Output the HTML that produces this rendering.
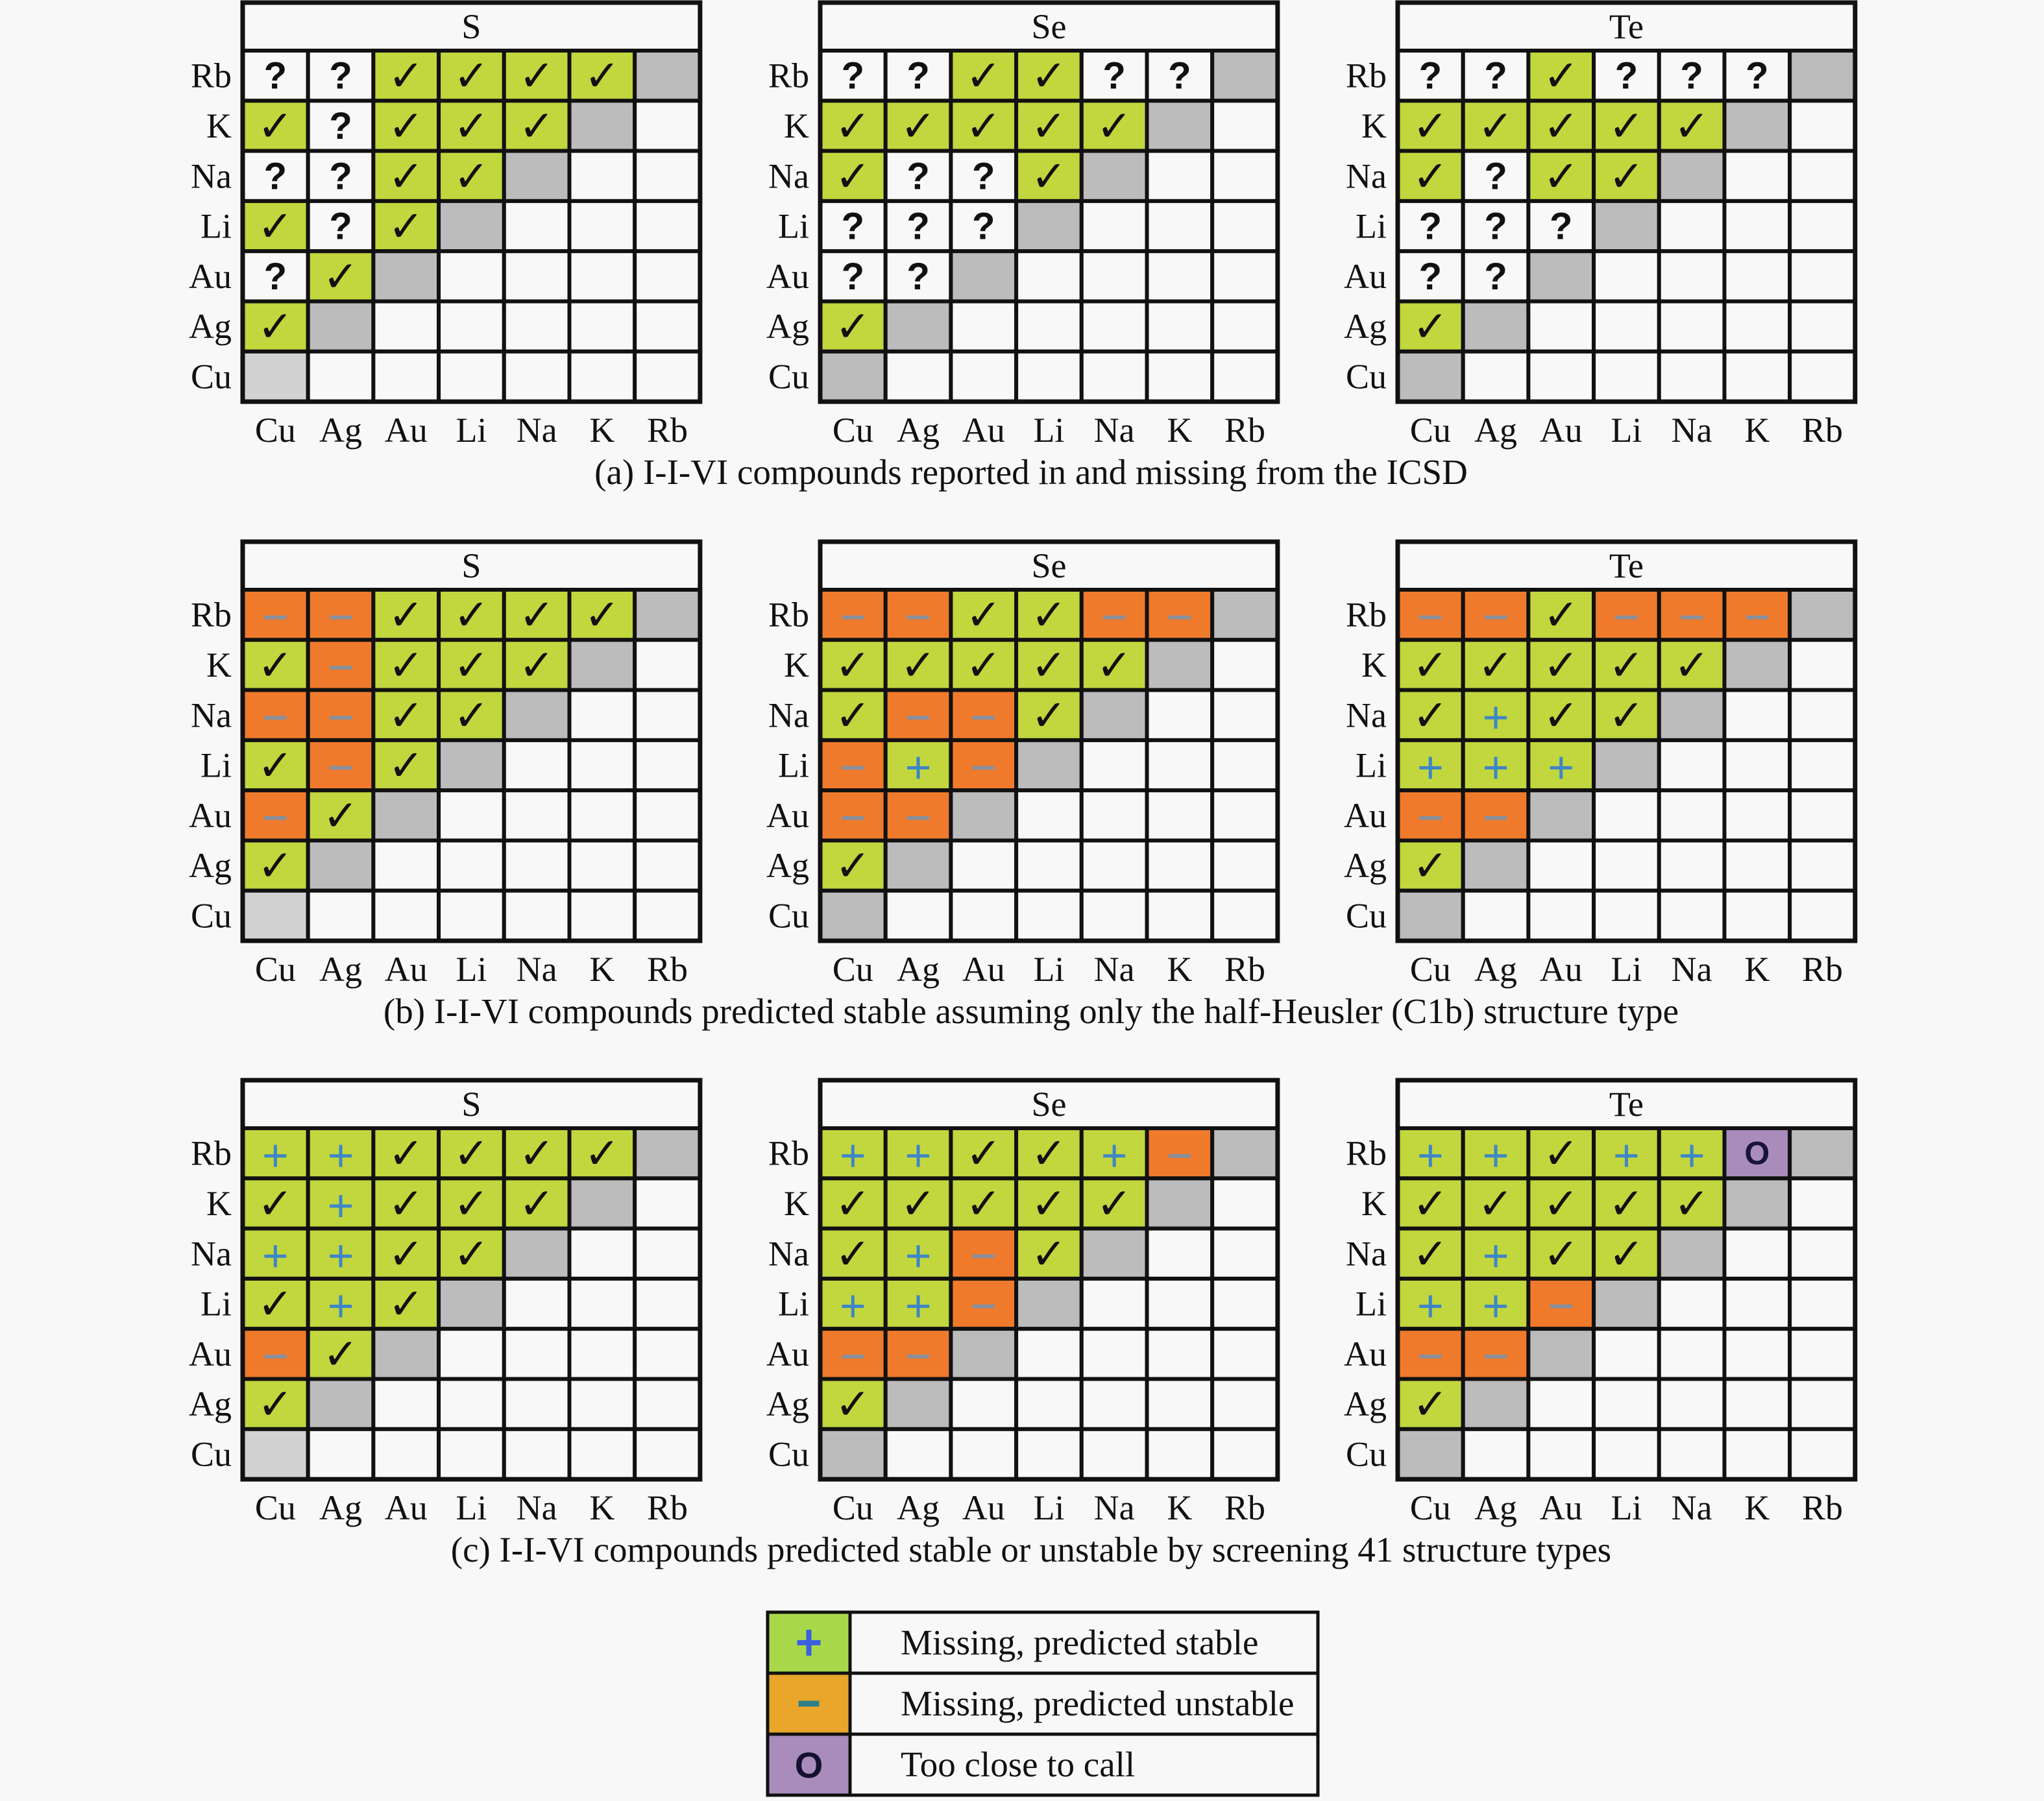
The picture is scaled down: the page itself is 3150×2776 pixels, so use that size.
<!DOCTYPE html>
<html><head><meta charset="utf-8">
<style>
html,body{margin:0;padding:0;background:#f8f8f8;}
svg{display:block;}
text{font-family:"Liberation Serif",serif;fill:#111;}
</style></head>
<body>
<svg id="chart" width="3150" height="2776" viewBox="0 0 3150 2776" xmlns="http://www.w3.org/2000/svg">
<rect x="0" y="0" width="3150" height="2776" fill="#f8f8f8"/>
</svg>
<script>
const elements = ["Cu","Ag","Au","Li","Na","K","Rb"];
const rowLabels = ["Rb","K","Na","Li","Au","Ag","Cu"];
const anions = ["S","Se","Te"];
const captions = [
 "(a) I-I-VI compounds reported in and missing from the ICSD",
 "(b) I-I-VI compounds predicted stable assuming only the half-Heusler (C1b) structure type",
 "(c) I-I-VI compounds predicted stable or unstable by screening 41 structure types"
];
// y = reported (check), q = unknown, p = predicted stable, m = predicted unstable, o = too close
const gridA_S  = ["qqyyyy","yqyyy","qqyy","yqy","qy","y"];
const gridA_Se = ["qqyyqq","yyyyy","yqqy","qqq","qq","y"];
const gridA_Te = ["qqyqqq","yyyyy","yqyy","qqq","qq","y"];
const gridB_S  = ["mmyyyy","ymyyy","mmyy","ymy","my","y"];
const gridB_Se = ["mmyymm","yyyyy","ymmy","mpm","mm","y"];
const gridB_Te = ["mmymmm","yyyyy","ypyy","ppp","mm","y"];
const gridC_S  = ["ppyyyy","ypyyy","ppyy","ypy","my","y"];
const gridC_Se = ["ppyypm","yyyyy","ypmy","ppm","mm","y"];
const gridC_Te = ["ppyppo","yyyyy","ypyy","ppm","mm","y"];
const panels = [[gridA_S,gridA_Se,gridA_Te],[gridB_S,gridB_Se,gridB_Te],[gridC_S,gridC_Se,gridC_Te]];
const legendLabels = ["Missing, predicted stable","Missing, predicted unstable","Too close to call"];
const legendKinds = ["p","m","o"];

const svg = document.getElementById('chart');
const NS = "http://www.w3.org/2000/svg";
const COLORS = {y:"#c2d63e",p:"#c2d63e",q:"#f8f8f8",m:"#ef7a2c",o:"#a98cbb"};
const panelX = [374,1264,2154];
const sectionY = [4,835,1665];
const cw = 100.7, rh = 77.3, hh = 74;
function mk(tag, attrs, parent){const e=document.createElementNS(NS,tag);for(const k in attrs)e.setAttribute(k,attrs[k]);(parent||svg).appendChild(e);return e;}
function symbol(kind,cx,cy,g){
  if(kind==="y"){const t=mk('text',{x:cx,y:cy+23,'text-anchor':'middle','font-size':66,'font-weight':'bold'},g);t.style.fontFamily='"DejaVu Sans",sans-serif';t.textContent="✓";}
  else if(kind==="q"){const t=mk('text',{x:cx,y:cy+20,'text-anchor':'middle','font-size':58,'font-weight':'bold'},g);t.style.fontFamily='"Liberation Sans",sans-serif';t.textContent="?";}
  else if(kind==="p"){mk('path',{d:`M${cx-17} ${cy+4}H${cx+17}M${cx} ${cy-13}V${cy+21}`,stroke:"#3d86c8",'stroke-width':5},g);}
  else if(kind==="m"){mk('path',{d:`M${cx-17} ${cy+4}H${cx+17}`,stroke:"#8a8f9a",'stroke-width':6},g);}
  else if(kind==="o"){const t=mk('text',{x:cx,y:cy+17,'text-anchor':'middle','font-size':50,'font-weight':'bold'},g);t.style.fontFamily='"Liberation Sans",sans-serif';t.style.fill='#1a1240';t.textContent="O";}
}
panels.forEach((row,si)=>{
  const y0=sectionY[si];
  row.forEach((grid,pi)=>{
    const x0=panelX[pi];
    const g=mk('g',{});
    
    
    mk('rect',{x:x0,y:y0,width:7*cw,height:hh,fill:"#f8f8f8",stroke:"#111",'stroke-width':6},g);
    const ht=mk('text',{x:x0+3.5*cw,y:y0+hh/2+18,'text-anchor':'middle','font-size':54},g);
    
    
    ht.textContent=anions[pi];
    const gy=y0+hh;
    for(let r=0;r<7;r++){
      for(let c=0;c<7;c++){
        let fill="#f8f8f8", kind=null;
        if(c===6-r) fill=(r===6&&pi===0)?"#d2d2d2":"#bcbcbc";
        else if(c<6-r){kind=grid[r][c];fill=COLORS[kind];}
        const cell=mk('rect',{x:x0+c*cw,y:gy+r*rh,width:cw,height:rh,fill:fill,stroke:"#111",'stroke-width':6},g);
        
        
        if(kind) symbol(kind,x0+c*cw+cw/2,gy+r*rh+rh/2,g);
      }
      const rl=mk('text',{x:x0-17,y:gy+r*rh+rh/2+18,'text-anchor':'end','font-size':54},g);
      
      
      rl.textContent=rowLabels[r];
    }
    mk('rect',{x:x0,y:y0,width:7*cw,height:hh+7*rh,fill:"none",stroke:"#111",'stroke-width':7},g);
    for(let c=0;c<7;c++){
      const cl=mk('text',{x:x0+c*cw+cw/2,y:gy+7*rh+62,'text-anchor':'middle','font-size':54},g);
      
      
      cl.textContent=elements[c];
    }
  });
  const cap=mk('text',{x:1589,y:y0+742,'text-anchor':'middle','font-size':55});
  
  
  cap.textContent=captions[si];
});
// legend
const lx=1183, ly=2485, lw=848, lrh=94, iw=127;
const lg=mk('g',{});


const iconFill=["#a8d84a","#eaa62a","#a98cbb"];
legendLabels.forEach((lab,i)=>{
  const y=ly+i*lrh;
  mk('rect',{x:lx,y:y,width:lw,height:lrh,fill:"#f8f8f8",stroke:"#111",'stroke-width':5},lg);
  const ic=mk('rect',{x:lx,y:y,width:iw,height:lrh,fill:iconFill[i],stroke:"#111",'stroke-width':5},lg);
  
  
  const k=legendKinds[i], cx=lx+iw/2, cy=y+lrh/2;
  if(k==="p") mk('path',{d:`M${cx-18} ${cy}H${cx+18}M${cx} ${cy-20}V${cy+20}`,stroke:"#3a5fe0",'stroke-width':8},lg);
  else if(k==="m") mk('path',{d:`M${cx-16} ${cy}H${cx+16}`,stroke:"#2e7f8a",'stroke-width':9},lg);
  else {const t=mk('text',{x:cx,y:cy+20,'text-anchor':'middle','font-size':56,'font-weight':'bold'},lg);t.style.fontFamily='"Liberation Sans",sans-serif';t.style.fill='#141030';t.textContent="O";}
  const t=mk('text',{x:lx+205,y:cy+18,'font-size':55},lg);
  
  
  t.textContent=lab;
});
</script>
</body></html>
